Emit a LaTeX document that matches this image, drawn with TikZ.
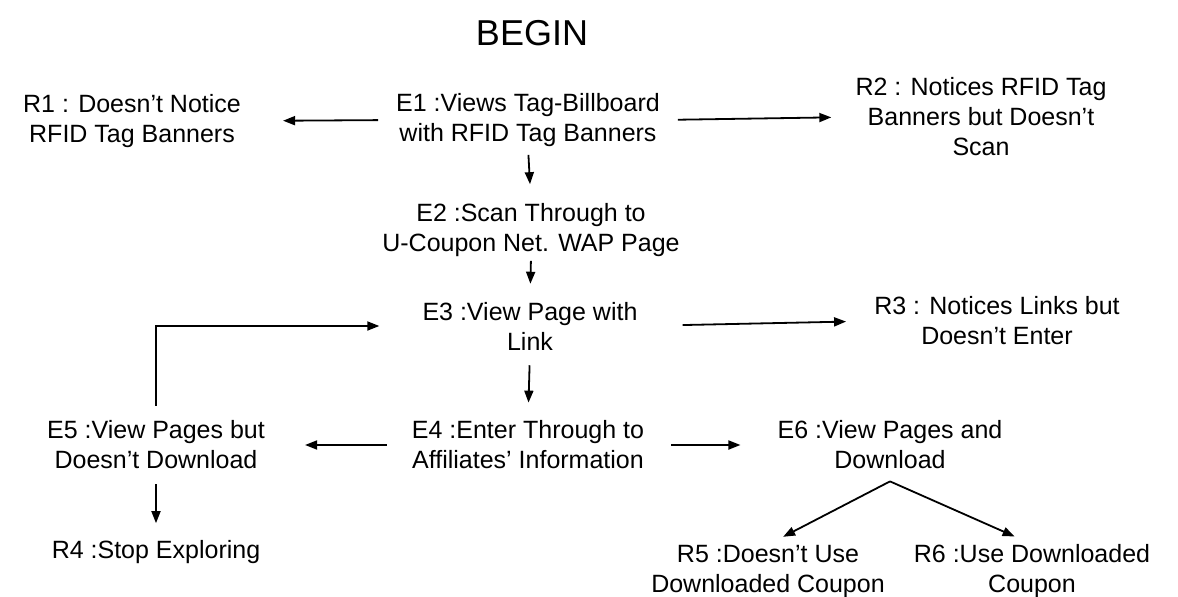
\documentclass[tikz,border=0pt]{standalone}
\usepackage{fontspec}
\setmainfont{Liberation Sans}
\usetikzlibrary{arrows.meta}
\begin{document}
\begin{tikzpicture}[x=1pt,y=-1pt,
  txt/.style={align=center,inner sep=0pt,font=\fontsize{25}{30}\selectfont},
  arr/.style={-{Triangle[length=12pt,width=9pt]},line width=1.8pt}]
\useasboundingbox (0,0) rectangle (1178,597);
\node[inner sep=0pt,font=\fontsize{36}{40}\selectfont] (BEGIN) at (532,33) {BEGIN};
\node[txt] (E1) at (528,120) {E1 :Views Tag-Billboard\\with RFID Tag Banners};
\node[txt] (R1) at (132,121) {R1 : Doesn't Notice\\RFID Tag Banners};
\node[txt] (R2) at (981,117) {R2 : Notices RFID Tag\\Banners but Doesn't\\Scan};
\node[txt] (E2) at (531,230) {E2 :Scan Through to\\U-Coupon Net. WAP Page};
\node[txt] (E3) at (530,326) {E3 :View Page with\\Link};
\node[txt] (R3) at (997,321) {R3 : Notices Links but\\Doesn't Enter};
\node[txt] (E4) at (528,445) {E4 :Enter Through to\\Affiliates' Information};
\node[txt] (E5) at (156,445) {E5 :View Pages but\\Doesn't Download};
\node[txt] (R4) at (156,552) {R4 :Stop Exploring};
\node[txt] (E6) at (890,445) {E6 :View Pages and\\Download};
\node[txt] (R5) at (768,571) {R5 :Doesn't Use\\Downloaded Coupon};
\node[txt] (R6) at (1032,571) {R6 :Use Downloaded\\Coupon};
\coordinate (split) at ([yshift=-12pt]E6.south);

\draw[arr,shorten <=18pt,shorten >=42pt] (E1.west) -- (R1.east);
\draw[arr,shorten <=18pt,shorten >=24pt] (E1.east) -- (R2.west);
\draw[arr,shorten <=8pt,shorten >=19pt] (E1.south) -- (E2.north);
\draw[arr,shorten <=4pt,shorten >=18pt] (E2.south) -- (E3.north);
\draw[arr,shorten <=45pt,shorten >=28pt] (E3.east) -- (R3.west);
\draw[arr,shorten <=15pt,shorten >=18pt] (E3.south) -- (E4.north);
\draw[arr,shorten <=25pt,shorten >=40pt] (E4.west) -- (E5.east);
\draw[arr,shorten <=27pt,shorten >=37pt] (E4.east) -- (E6.west);
\draw[arr,shorten <=15pt,shorten >=17pt] (E5.south) -- (R4.north);
\draw[arr,shorten <=15pt,shorten >=43pt] (E5.north) |- (E3.west);
\draw[arr,shorten >=17pt] (split) -- (R5.north);
\draw[arr,shorten >=19pt] (split) -- (R6.north);
\end{tikzpicture}
\end{document}
